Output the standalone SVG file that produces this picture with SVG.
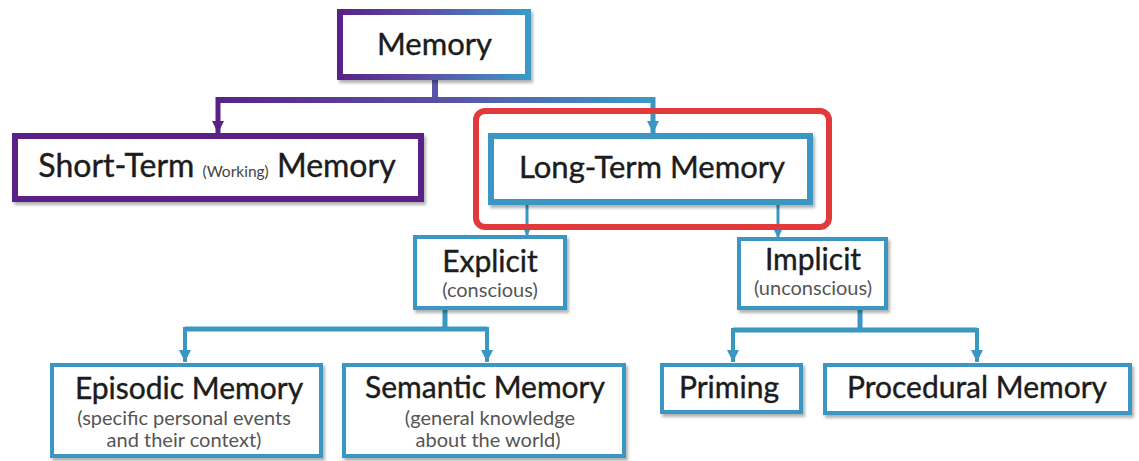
<svg xmlns="http://www.w3.org/2000/svg" width="1139" height="461" viewBox="0 0 1139 461">
  <style>
    .box { fill: #ffffff; }
    .purple { stroke: #5a2287; }
    .blue { stroke: #3a97c2; }
    .thick { stroke-width: 6; }
    .thin { stroke-width: 4; }
    .t { font-family: Lato, "Noto Sans", sans-serif; fill: #1c1c1c; text-anchor: middle; stroke: #1c1c1c; stroke-width: 0.4; }
    .big { font-size: 31px; }
    .mid { font-size: 30px; }
    .sm { font-size: 20px; fill: #555555; stroke: none; }
    .xs { font-size: 15.5px; fill: #444444; stroke: none; }
    .conn { fill: none; }
  </style>
  <defs>
    <linearGradient id="gMem" x1="0" y1="0" x2="1" y2="0">
      <stop offset="0" stop-color="#5a2287"/>
      <stop offset="0.5" stop-color="#5a55a8"/>
      <stop offset="1" stop-color="#3a9bc6"/>
    </linearGradient>
    <linearGradient id="gLine" gradientUnits="userSpaceOnUse" x1="218" y1="0" x2="653" y2="0">
      <stop offset="0" stop-color="#5a2287"/>
      <stop offset="0.5" stop-color="#5a4fa2"/>
      <stop offset="1" stop-color="#3a9bc6"/>
    </linearGradient>
    <marker id="aB" viewBox="0 0 10 10" refX="10" refY="5" markerWidth="12" markerHeight="12" markerUnits="userSpaceOnUse" orient="auto">
      <path d="M0,0 L10,5 L0,10 Z" fill="#3a97c2"/>
    </marker>
    <marker id="aPu" viewBox="0 0 10 10" refX="10" refY="5" markerWidth="12" markerHeight="12" markerUnits="userSpaceOnUse" orient="auto">
      <path d="M0,0 L10,5 L0,10 Z" fill="#5a2287"/>
    </marker>
    <marker id="aBs" viewBox="0 0 10 10" refX="10" refY="5" markerWidth="8" markerHeight="8" markerUnits="userSpaceOnUse" orient="auto">
      <path d="M0,0 L10,5 L0,10 Z" fill="#3a97c2"/>
    </marker>
    <filter id="sh" x="-5%" y="-10%" width="115%" height="130%">
      <feDropShadow dx="2" dy="3" stdDeviation="1.5" flood-color="#000000" flood-opacity="0.3"/>
    </filter>
  </defs>

  <g id="connectors">
    <path class="conn" d="M435,80 V100" stroke="#5a55a8" stroke-width="6"/>
    <path class="conn" d="M218,100 H653" stroke="url(#gLine)" stroke-width="6"/>
    <path class="conn" d="M218,97 V133" stroke="#5a2287" stroke-width="5" marker-end="url(#aPu)"/>
    <path class="conn" d="M653,97 V133" stroke="#3a97c2" stroke-width="5" marker-end="url(#aB)"/>
    <path class="conn" d="M527,205 V236" stroke="#3a97c2" stroke-width="3" marker-end="url(#aBs)"/>
    <path class="conn" d="M778,205 V238" stroke="#3a97c2" stroke-width="3" marker-end="url(#aBs)"/>
    <path class="conn" d="M445,310 V329" stroke="#3a97c2" stroke-width="5"/>
    <path class="conn" d="M185,329 H487" stroke="#3a97c2" stroke-width="5"/>
    <path class="conn" d="M185,327 V362" stroke="#3a97c2" stroke-width="4" marker-end="url(#aB)"/>
    <path class="conn" d="M487,327 V362" stroke="#3a97c2" stroke-width="4" marker-end="url(#aB)"/>
    <path class="conn" d="M860,310 V330" stroke="#3a97c2" stroke-width="5"/>
    <path class="conn" d="M733,330 H977" stroke="#3a97c2" stroke-width="5"/>
    <path class="conn" d="M733,328 V362" stroke="#3a97c2" stroke-width="4" marker-end="url(#aB)"/>
    <path class="conn" d="M977,328 V362" stroke="#3a97c2" stroke-width="4" marker-end="url(#aB)"/>
  </g>

  <g id="highlight">
    <rect x="476" y="111" width="353" height="116" rx="9" fill="none" stroke="#e23a3a" stroke-width="6"/>
  </g>

  <g id="memory">
    <rect class="box thick" x="340" y="12" width="188" height="65" stroke="url(#gMem)" filter="url(#sh)"/>
    <text class="t big" x="434.5" y="55">Memory</text>
  </g>

  <g id="short-term">
    <rect class="box purple thick" x="15" y="136" width="406" height="63" filter="url(#sh)"/>
    <text class="t" style="font-size:32px" x="217" y="177"><tspan>Short-Term </tspan><tspan class="xs">(Working)</tspan><tspan> Memory</tspan></text>
  </g>

  <g id="long-term">
    <rect class="box blue thick" x="491" y="136" width="319" height="66" filter="url(#sh)"/>
    <text class="t big" x="652" y="178">Long-Term Memory</text>
  </g>

  <g id="explicit">
    <rect class="box blue thin" x="415" y="237" width="150" height="71" filter="url(#sh)"/>
    <text class="t mid" x="490" y="272">Explicit</text>
    <text class="t sm" x="490" y="297">(conscious)</text>
  </g>

  <g id="implicit">
    <rect class="box blue thin" x="739" y="239" width="147" height="69" filter="url(#sh)"/>
    <text class="t mid" x="813" y="270">Implicit</text>
    <text class="t sm" x="813" y="295">(unconscious)</text>
  </g>

  <g id="episodic">
    <rect class="box blue thin" x="52" y="365" width="269" height="91" filter="url(#sh)"/>
    <text class="t mid" x="189" y="399">Episodic Memory</text>
    <text class="t sm" x="184" y="425">(specific personal events</text>
    <text class="t sm" x="184" y="447">and their context)</text>
  </g>

  <g id="semantic">
    <rect class="box blue thin" x="344" y="365" width="280" height="91" filter="url(#sh)"/>
    <text class="t mid" x="485" y="398">Semantic Memory</text>
    <text class="t sm" x="490" y="425">(general knowledge</text>
    <text class="t sm" x="488" y="447">about the world)</text>
  </g>

  <g id="priming">
    <rect class="box blue thin" x="662" y="365" width="139" height="47" filter="url(#sh)"/>
    <text class="t mid" x="729" y="398">Priming</text>
  </g>

  <g id="procedural">
    <rect class="box blue thin" x="825" y="365" width="305" height="48" filter="url(#sh)"/>
    <text class="t mid" x="977" y="398">Procedural Memory</text>
  </g>
</svg>
